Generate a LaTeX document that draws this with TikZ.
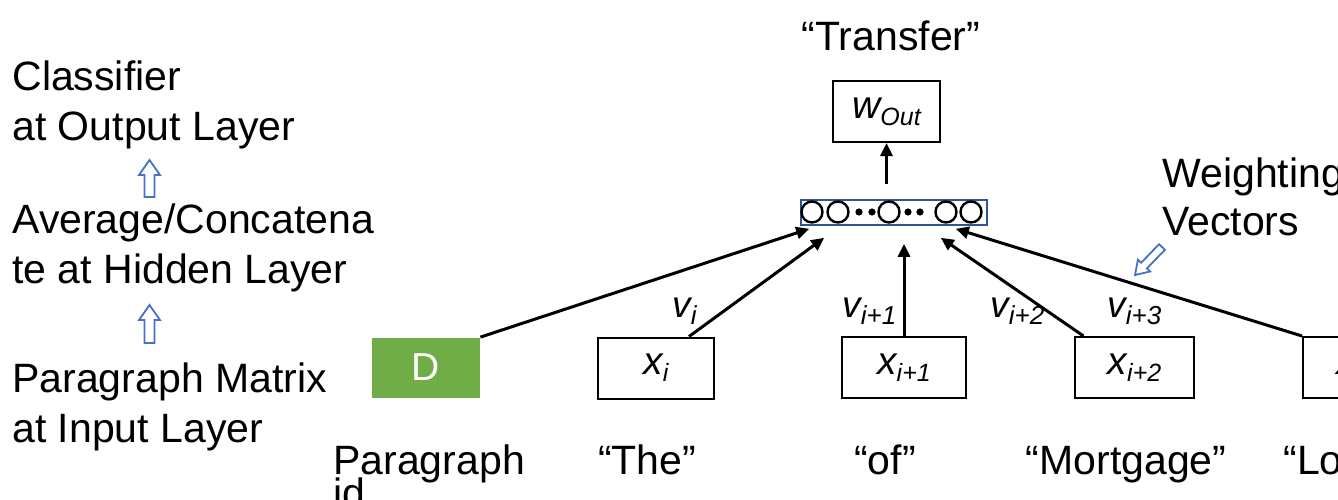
\documentclass[tikz,border=0pt]{standalone}
\usepackage{fontspec}
\setmainfont{Liberation Sans}
\usetikzlibrary{arrows.meta,calc}
\definecolor{leafgreen}{HTML}{70AD47}
\definecolor{hollowblue}{HTML}{4472C4}
\definecolor{hidblue}{HTML}{2F5597}
\newcommand\bigtxt{\fontsize{20.5}{25}\selectfont}
\newcommand\boxvar[2]{{\fontsize{19.5}{19.5}\selectfont\itshape #1}\raisebox{-3.5pt}{\fontsize{12.5}{12.5}\selectfont\itshape #2}}
\newcommand\edgevar[2]{{\fontsize{18.5}{18.5}\selectfont\itshape #1}\raisebox{-3.5pt}{\fontsize{13}{13}\selectfont\itshape #2}}
\begin{document}
\begin{tikzpicture}[x=0.5pt,y=-0.5pt,
  every node/.style={inner sep=0pt},
  txt/.style={font=\bigtxt, anchor=base west},
  ctxt/.style={font=\bigtxt, anchor=base},
  wordbox/.style={draw, line width=1pt, minimum height=30.5pt},
  conn/.style={line width=1.5pt, -{Triangle[length=6.5pt,width=6pt]}},
  hollow/.style={draw=hollowblue, line width=0.9pt, line join=miter}]
\useasboundingbox (0,0) rectangle (1338,499);
\clip (0,0) rectangle (1338,499);

% left legend
\node[txt] (cls1) at (12,90) {Classifier};
\node[txt] (cls2) at (12,140) {at Output Layer};
\node[txt] (avg1) at (12,233) {Average/Concatena};
\node[txt] (avg2) at (12,283) {te at Hidden Layer};
\node[txt] (par1) at (12,392) {Paragraph Matrix};
\node[txt] (par2) at (12,442) {at Input Layer};
\draw[hollow] (144.5,197) -- (144.5,175) -- (139,175) -- (149.5,160) -- (160,175) -- (154.5,175) -- (154.5,197) -- cycle;
\draw[hollow] (144.5,343) -- (144.5,320) -- (139,320) -- (149.5,305) -- (160,320) -- (154.5,320) -- (154.5,343) -- cycle;

% output
\node[ctxt] (transfer) at (891,50) {“Transfer”};
\node[wordbox, minimum width=53.5pt] (wout) at (886.5,111.5) {\boxvar{w}{Out}};

% hidden layer
\node[draw=hidblue, line width=0.8pt, minimum width=93pt, minimum height=12.5pt] (hid) at (894,212.5) {};
\foreach \cx in {812,838,889,946,971} \draw[line width=1.2pt] (\cx,212) circle[radius=10.5];
\foreach \cx in {859,872,908,920} \fill (\cx,212) circle[radius=3.6];

% inputs
\node[fill=leafgreen, minimum width=54pt, minimum height=30pt, text=white, font=\fontsize{19.5}{19.5}\selectfont] (D) at (426,367.5) {D};
\node[wordbox, minimum width=58pt] (xi) at (656,368) {\boxvar{x}{i}};
\node[wordbox, minimum width=62pt] (xi1) at (904,367.5) {\boxvar{x}{i+1}};
\node[wordbox, minimum width=59.5pt] (xi2) at (1134.5,367.5) {\boxvar{x}{i+2}};
\node[wordbox, minimum width=60pt] (xi3) at (1363,367.5) {\boxvar{x}{i+3}};

% connectors
\coordinate (wstart) at ($(wout.south)+(0,41)$);
\draw[conn] (wstart) -- (wout.south);
\draw[conn] (D.north east) -- ($(hid.south west)+(9,3)$);
\draw[conn] ($(xi.north)+(33,0)$) -- ($(hid.south west)+(24,12)$);
\draw[conn] (xi1.north) -- ($(xi1.north |- hid.south)+(0,18)$);
\draw[conn] ($(xi2.north)+(-51,0)$) -- ($(hid.south east)+(-47,12)$);
\draw[conn] (xi3.north west) -- ($(hid.south east)+(-32,3)$);

% edge labels
\node[anchor=base west] (vi) at (672,317) {\edgevar{v}{i}};
\node[anchor=base west] (vi1) at (842,317) {\edgevar{v}{i+1}};
\node[anchor=base west] (vi2) at (990,317) {\edgevar{v}{i+2}};
\node[anchor=base west] (vi3) at (1107,317) {\edgevar{v}{i+3}};

% weighting vectors
\node[txt] (wv1) at (1162,187) {Weighting};
\node[txt] (wv2) at (1162,235) {Vectors};
\draw[hollow] (1164.9,249.8) -- (1146.9,268.4) -- (1150.1,271.5) -- (1135,275) -- (1137.9,259.7) -- (1141.1,262.8) -- (1159.1,244.2) -- cycle;

% words
\node[txt] (pw1) at (333,474) {Paragraph};
\node[txt] (pw2) at (333,507) {id};
\node[ctxt] (the) at (647,474) {“The”};
\node[ctxt] (of) at (885,474) {“of”};
\node[ctxt] (mort) at (1126,474) {“Mortgage”};
\node[txt] (loan) at (1283,474) {“Loan”};
\end{tikzpicture}
\end{document}
